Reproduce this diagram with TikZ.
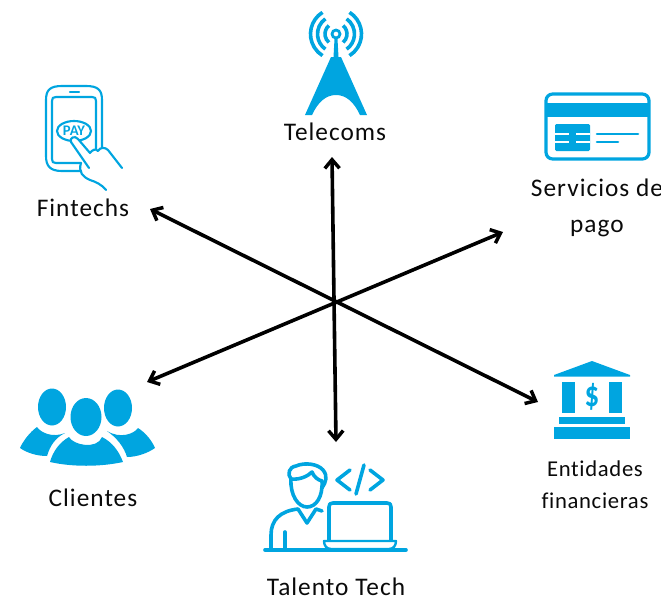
\documentclass[tikz,border=0pt]{standalone}
\usepackage{fontspec}
\setmainfont{Carlito}[Ligatures=NoCommon]
\usetikzlibrary{arrows.meta}
\definecolor{iconblue}{HTML}{00A5E0}
\definecolor{labelblack}{HTML}{0A0A0A}

\begin{document}
\begin{tikzpicture}[x=0.75pt, y=-0.75pt,
			state/.style={text=labelblack, font=\fontsize{19}{27}\selectfont\addfontfeatures{LetterSpace=4}, align=center, inner sep=0pt},
			small/.style={state, font=\fontsize{17}{24}\selectfont\addfontfeatures{LetterSpace=3}},
			link/.style={line width=2.7pt, {Straight Barb[length=6.5pt,width=11pt,line width=2.6pt]}-{Straight Barb[length=6.5pt,width=11pt,line width=2.6pt]}},
			iconfill/.style={fill=iconblue, draw=none},
			iconline/.style={draw=iconblue, line width=2.7pt, line cap=round, line join=round, fill=none},
			thinline/.style={draw=iconblue, line width=1.6pt, line cap=round, line join=round, fill=none}]
			\useasboundingbox (0,0) rectangle (661,600);

			\node[state] (u0) at (335, 132) {Telecoms};
			\node[state] (u1) at (83, 208) {Fintechs};
			\node[state] (u2) at (597, 208) {Servicios de\\pago};
			\node[small] (u3) at (595, 485) {Entidades\\financieras};
			\node[state] (u4) at (336, 587) {Talento Tech};
			\node[state] (u5) at (93, 498) {Clientes};

			\coordinate (c1) at (332, 157);
			\coordinate (c2) at (336, 442);
			\coordinate (c3) at (150, 209);
			\coordinate (c4) at (538, 402);
			\coordinate (c5) at (503, 232);
			\coordinate (c6) at (147, 382);

			\path[link] 	(c1)  edge   (c2);
			\path[link] 	(c3)  edge   (c4);
			\path[link] 	(c5)  edge   (c6);

			% telecoms
			\path[iconfill, even odd rule] (336, 34) circle (5.5) (336, 34) circle (2.5);
			\path[iconfill] (334.5, 39) -- (337.5, 39) -- (338.5, 57) -- (341, 57) -- (367, 115) -- (360, 115)
				.. controls (354, 102) and (346, 95) .. (336, 95)
				.. controls (326, 95) and (318, 102) .. (312, 115) -- (305, 115) -- (331, 57) -- (333.5, 57) -- cycle;
			\foreach \r/\a in {11/50, 18.5/55, 25.5/58} {
				\draw[draw=iconblue, line width=2.7pt] ({336-\r*cos(\a)}, {34-\r*sin(\a)}) arc[start angle=180+\a, end angle=180-\a, radius=\r];
				\draw[draw=iconblue, line width=2.7pt] ({336+\r*cos(\a)}, {34-\r*sin(\a)}) arc[start angle=-\a, end angle=\a, radius=\r];
			}

			% fintechs
			\draw[thinline] (81, 171) -- (62, 171) .. controls (50, 171) and (46, 166) .. (46, 156) -- (46, 100) .. controls (46, 90) and (50, 86) .. (62, 86) -- (86, 86) .. controls (98, 86) and (102, 90) .. (102, 100) -- (102, 148);
			\draw[thinline] (81, 163) -- (56, 163) .. controls (53, 163) and (52, 162) .. (52, 159) -- (52, 101) .. controls (52, 98) and (53, 97) .. (56, 97) -- (92, 97) .. controls (95, 97) and (96, 98) .. (96, 101) -- (96, 149);
			\draw[thinline] (70, 92) -- (79, 92);
			\draw[thinline] (74, 131) ellipse (17 and 10);
			\node[text=iconblue, font=\bfseries\fontsize{11}{11}\selectfont, inner sep=0pt] (pay) at (74, 131) {PAY};
			\draw[thinline, fill=white] (89, 168) -- (71, 142) .. controls (69, 138) and (75, 135) .. (78, 139) -- (90, 153)
				.. controls (92, 150) and (96, 148) .. (98, 151) .. controls (100, 147) and (105, 147) .. (108, 150) -- (122, 168);
			\draw[thinline] (81, 163) .. controls (78, 172) and (83, 177) .. (90, 180) .. controls (96, 182) and (101, 184) .. (106, 190);

			% servicios de pago
			\draw[iconline, line width=2.4pt, rounded corners=5pt] (546, 94) rectangle (649, 159);
			\path[iconfill] (546, 103) rectangle (649, 117);
			\path[iconfill, rounded corners=1pt] (555, 124) rectangle (590, 151);
			\draw[white, line width=1.5pt] (555, 134) -- (569, 134) (576, 134) -- (590, 134) (555, 142) -- (569, 142) (576, 142) -- (590, 142);
			\draw[iconline, line width=2pt] (597, 134) -- (638, 134) (597, 142) -- (618, 142);

			% entidades financieras
			\path[iconfill] (592, 361) -- (630, 375) -- (630, 376.5) -- (554, 376.5) -- (554, 375) -- cycle;
			\path[iconfill] (562, 382) rectangle (575, 413);
			\path[iconfill] (609, 382) rectangle (622, 413);
			\path[iconfill] (559, 417) rectangle (625, 424);
			\path[iconfill] (554, 427) rectangle (630, 439);
			\node[text=iconblue, font=\bfseries\fontsize{27}{27}\selectfont, inner sep=0pt, xscale=0.8] (usd) at (592, 397) {\$};

			% talento tech
			\draw[iconline] (291, 479) .. controls (287, 474) and (289, 467) .. (296, 466) .. controls (305, 462) and (318, 464) .. (323, 470) .. controls (328, 476) and (326, 482) .. (322, 488);
			\draw[iconline] (291, 479) .. controls (300, 480) and (308, 476) .. (312, 472) .. controls (314, 477) and (318, 480) .. (322, 481);
			\draw[iconline] (291, 479) .. controls (290, 495) and (298, 507) .. (307, 507) .. controls (316, 507) and (323, 497) .. (322, 481);
			\draw[iconline] (271, 550) -- (271, 535) .. controls (271, 520) and (280, 511) .. (298, 509) -- (307, 523) -- (316, 509) -- (322, 511);
			\draw[iconline] (285, 532) -- (285, 550);
			\draw[iconline] (265, 550) -- (406, 550);
			\draw[iconline] (329, 540) -- (329, 507) .. controls (329, 504) and (330, 503) .. (333, 503) -- (387, 503) .. controls (390, 503) and (391, 504) .. (391, 507) -- (391, 540);
			\draw[iconline, line width=1.8pt] (324, 541) -- (396, 541) .. controls (396, 546) and (393, 549) .. (389, 549) -- (331, 549) .. controls (327, 549) and (324, 546) .. (324, 541) -- cycle;
			\draw[iconline] (350, 470) -- (337, 480) -- (350, 490);
			\draw[iconline] (364, 465) -- (356, 494);
			\draw[iconline] (370, 470) -- (383, 480) -- (370, 490);

			% clientes
			\path[iconfill] (52, 407) ellipse (14 and 18.5);
			\path[iconfill] (118, 408) ellipse (14 and 18.5);
			\path[iconfill] (86, 417) ellipse (15.5 and 19);
			\path[iconfill] (20, 448) .. controls (23, 441) and (30, 432) .. (37, 427) .. controls (41, 433) and (53, 438) .. (65, 433) .. controls (55, 438) and (50, 446) .. (47, 456) .. controls (37, 456) and (27, 453) .. (20, 448) -- cycle;
			\path[iconfill] (155, 448) .. controls (152, 441) and (146, 433) .. (138, 428) .. controls (134, 434) and (120, 439) .. (107, 431) .. controls (117, 438) and (124, 447) .. (127, 457) .. controls (137, 457) and (148, 453) .. (155, 448) -- cycle;
			\path[iconfill] (50, 462) .. controls (53, 451) and (60, 442) .. (69, 437) .. controls (73, 445) and (97, 450) .. (102, 437) .. controls (112, 442) and (119, 451) .. (123, 462) .. controls (100, 467) and (72, 467) .. (50, 462) -- cycle;
			\end{tikzpicture}
\end{document}
